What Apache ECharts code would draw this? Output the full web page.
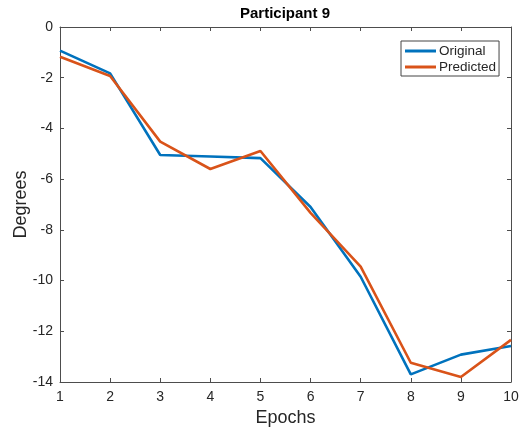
<!DOCTYPE html>
<html>
<head>
<meta charset="utf-8">
<script src="https://cdn.jsdelivr.net/npm/echarts@6/dist/echarts.min.js"></script>
<style>
  html, body { margin: 0; padding: 0; background: #fff; }
  #chart { width: 520px; height: 432px; }
</style>
</head>
<body>
<div id="chart"></div>
<script>
// Epoch numbers along the x axis
const epochs = [1, 2, 3, 4, 5, 6, 7, 8, 9, 10];
// Angle per epoch, in degrees
const original  = [-0.93, -1.83, -5.05, -5.11, -5.17, -7.1, -9.85, -13.7, -12.92, -12.58];
const predicted = [-1.17, -1.93, -4.52, -5.6, -4.89, -7.33, -9.45, -13.24, -13.8, -12.34];

const axisColor = '#4d4d4d';
const textColor = '#262626';
const fontFamily = '"Liberation Sans", Arial, sans-serif';

const pairs = vals => epochs.map((e, i) => [e, vals[i]]);

const chart = echarts.init(document.getElementById('chart'), null, { renderer: 'canvas' });

const boxAxis = {
  axisLine: { show: true, lineStyle: { color: axisColor, width: 1 } },
  axisTick: { show: true, inside: true, length: 4, lineStyle: { color: axisColor } },
  axisLabel: { show: false },
  splitLine: { show: false }
};

chart.setOption({
  animation: false,
  backgroundColor: '#fff',
  textStyle: { fontFamily: fontFamily },
  grid: { left: 60, right: 9, top: 27, bottom: 50, containLabel: false, outerBoundsMode: 'none' },
  graphic: [{
    type: 'text',
    x: 285, y: 14,
    style: {
      text: 'Participant 9',
      fontFamily: fontFamily,
      fontSize: 15,
      fontWeight: 'bold',
      fill: '#000',
      textAlign: 'center',
      textVerticalAlign: 'middle'
    }
  }],
  legend: {
    orient: 'vertical',
    left: 401,
    top: 41,
    padding: [3, 3, 2, 4],
    itemGap: 2,
    itemWidth: 31,
    itemHeight: 3,
    icon: 'rect',
    borderColor: '#444',
    borderWidth: 1,
    backgroundColor: '#fff',
    textStyle: { fontSize: 13.5, color: textColor, fontFamily: fontFamily, padding: [0, 0, 0, -2] },
    data: ['Original', 'Predicted']
  },
  xAxis: [{
    type: 'value',
    min: 1, max: 10, interval: 1,
    name: 'Epochs',
    nameLocation: 'middle',
    nameGap: 27,
    nameMoveOverlap: false,
    nameTextStyle: { fontSize: 18, color: textColor },
    axisLine: { show: true, onZero: false, lineStyle: { color: axisColor, width: 1 } },
    axisTick: { show: true, inside: true, length: 4, lineStyle: { color: axisColor } },
    axisLabel: { fontSize: 14, color: textColor, margin: 8 },
    splitLine: { show: false }
  }, Object.assign({
    type: 'value', position: 'top',
    min: 1, max: 10, interval: 1
  }, boxAxis)],
  yAxis: [{
    type: 'value',
    min: -14, max: 0, interval: 2,
    name: 'Degrees',
    nameLocation: 'middle',
    nameGap: 30,
    nameMoveOverlap: false,
    nameTextStyle: { fontSize: 18, color: textColor },
    axisLine: { show: true, onZero: false, lineStyle: { color: axisColor, width: 1 } },
    axisTick: { show: true, inside: true, length: 4, lineStyle: { color: axisColor } },
    axisLabel: { fontSize: 14, color: textColor, margin: 7 },
    splitLine: { show: false }
  }, Object.assign({
    type: 'value', position: 'right',
    min: -14, max: 0, interval: 2
  }, boxAxis)],
  series: [{
    name: 'Original',
    type: 'line',
    data: pairs(original),
    showSymbol: false,
    symbol: 'none',
    color: '#0072BD',
    lineStyle: { width: 2.6, color: '#0072BD' }
  }, {
    name: 'Predicted',
    type: 'line',
    data: pairs(predicted),
    showSymbol: false,
    symbol: 'none',
    color: '#D95319',
    lineStyle: { width: 2.6, color: '#D95319' }
  }]
});
</script>
</body>
</html>
